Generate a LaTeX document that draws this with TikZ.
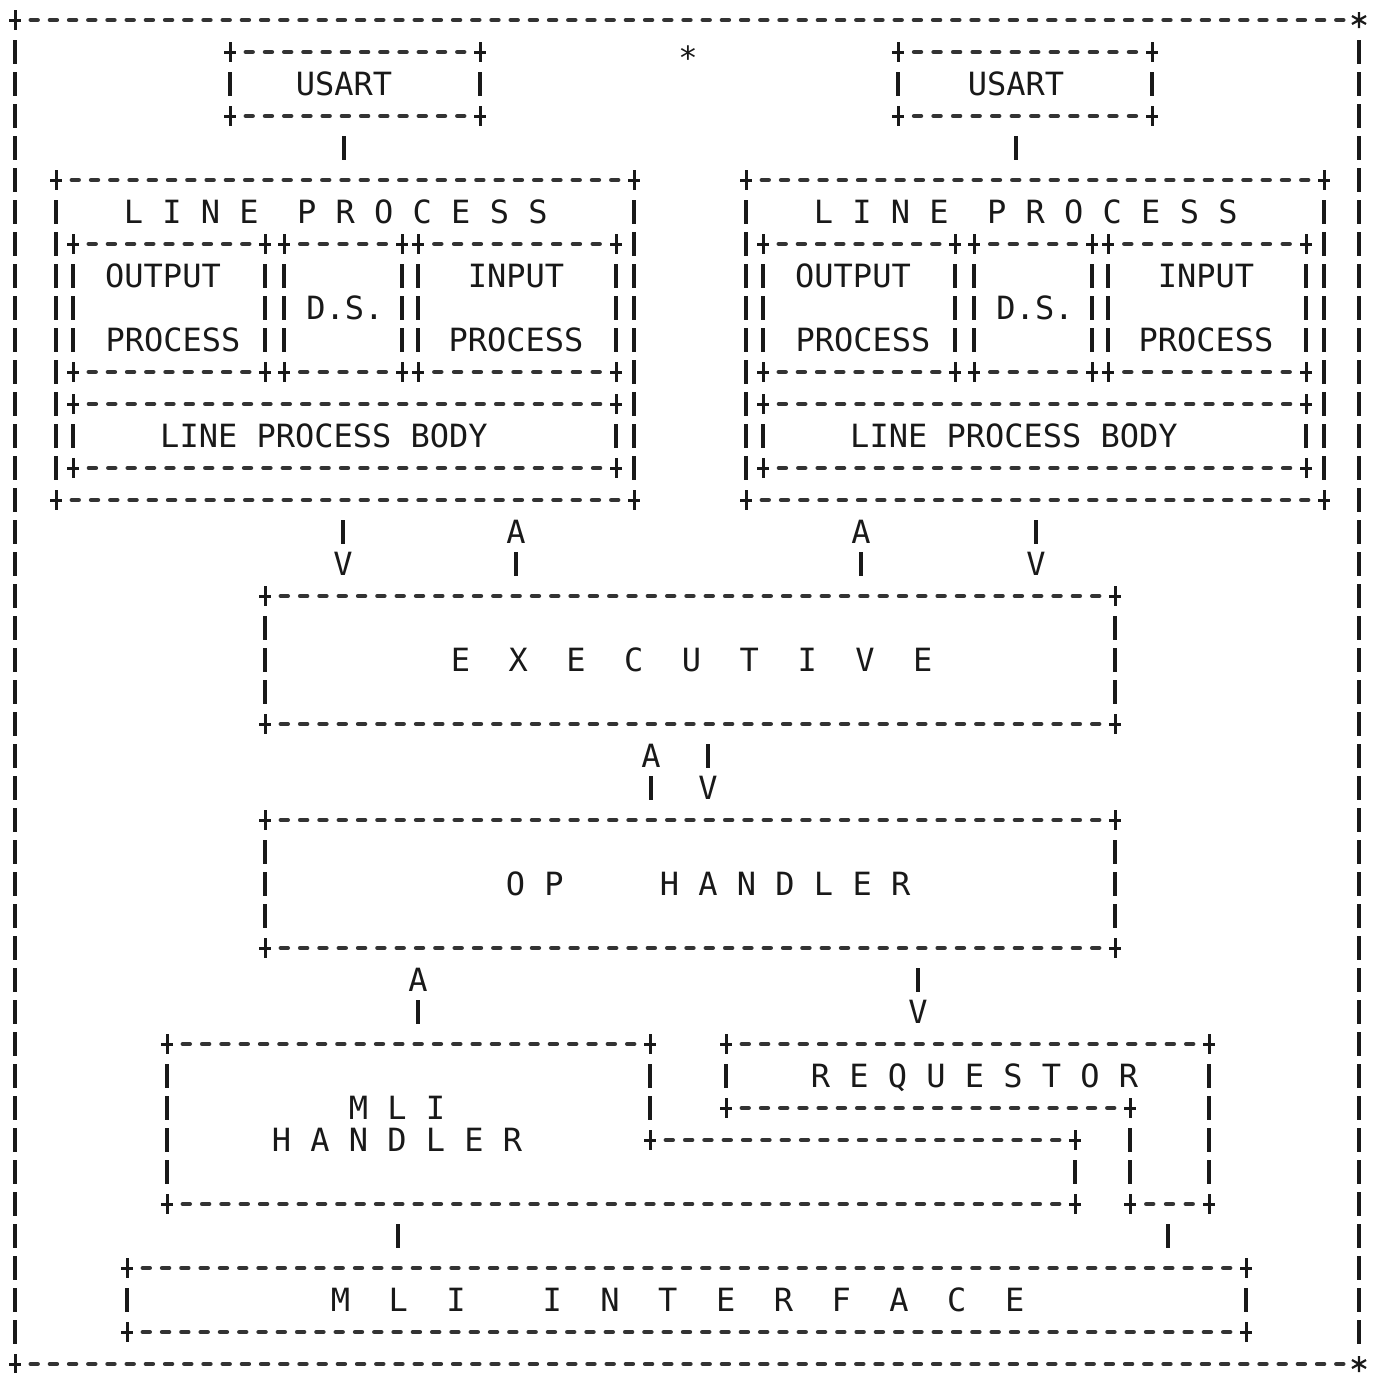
\documentclass[tikz,border=0pt]{standalone}
\usepackage{fontspec}
\newfontfamily\dmono{DejaVu Sans Mono}
\usetikzlibrary{fit,calc}
\tikzset{
  vb/.style={line width=1.75pt, black!90},
  dsh/.style={line width=2.2pt, line cap=round, black!80},
  pl/.style={line width=1.5pt, black!90},
  sm/.style={line width=1.1pt, black!90},
  boxn/.style={inner sep=0pt, draw=none},
  lbl/.style={font={\dmono\fontsize{16}{18}\selectfont}, inner sep=0pt, text=black!90},
}
% plus mark at a corner
\newcommand\pmark[2]{\draw[pl] ({#1-6},#2) -- ({#1+6},#2) (#1,{#2-10}) -- (#1,{#2+10});}
% star mark at a corner
\newcommand\smark[2]{\draw[sm] (#1,{#2-8}) -- (#1,{#2+8}) ({#1-7},{#2-4}) -- ({#1+7},{#2+4}) ({#1-7},{#2+4}) -- ({#1+7},{#2-4});}
% horizontal dashed run between x1 and x2 at y
\newcommand\hdl[3]{%
  \pgfmathtruncatemacro\dnum{round((#2-#1)/19.3)}%
  \pgfmathsetmacro\hstep{(#2-#1)/\dnum}%
  \pgfmathtruncatemacro\dlast{\dnum-1}%
  \foreach \k in {1,...,\dlast}{\draw[dsh] ({#1+\k*\hstep-3.5},#3) -- ({#1+\k*\hstep+3.5},#3);}%
}
% vertical bars at x between rows y1 and y2
\newcommand\vdl[3]{%
  \pgfmathtruncatemacro\dnum{round((#3-#2)/32)}%
  \pgfmathtruncatemacro\dlast{\dnum-1}%
  \foreach \k in {1,...,\dlast}{\draw[vb] (#1,{#2+\k*32-12}) -- (#1,{#2+\k*32+12});}%
}
% named ascii box
\newcommand\abox[5]{%
  \node[boxn, fit={(#2,#3) (#4,#5)}] (#1) {};
  \hdl{#2}{#4}{#3}\hdl{#2}{#4}{#5}\vdl{#2}{#3}{#5}\vdl{#4}{#3}{#5}%
  \pmark{#2}{#3}\pmark{#4}{#3}\pmark{#2}{#5}\pmark{#4}{#5}%
}
\begin{document}
\begin{tikzpicture}[x=0.5pt,y=-0.5pt]
\useasboundingbox (0,0) rectangle (1373,1373);
\fill[white] (0,0) rectangle (1373,1373);

% outer frame
\node[boxn, fit={(15,20) (1359,1364)}] (frame) {};
\hdl{15}{1359}{20}\hdl{15}{1359}{1364}\vdl{15}{20}{1364}\vdl{1359}{20}{1364}
\pmark{15}{20}\pmark{15}{1364}
\smark{1359}{20}\smark{1359}{1364}
\node[lbl, anchor=base] (st0) at (688,69) {*};

% USART boxes
\abox{usartL}{230}{52}{480}{116}
\abox{usartR}{898}{52}{1152}{116}
\node[lbl, anchor=base] (usartLt) at (344,95.7) {USART};
\node[lbl, anchor=base] (usartRt) at (1016,95.7) {USART};

% line process (left)
\abox{lpL}{56}{180}{634}{500}
\abox{outBL}{73}{244}{265}{372}
\abox{dsBL}{284}{244}{402}{372}
\abox{inBL}{418}{244}{616}{372}
\abox{bodyBL}{73}{404}{616}{468}
\node[lbl, anchor=base west] (lptL) at (123.35,223.7) {L~I~N~E~~P~R~O~C~E~S~S};
\node[lbl, anchor=base] (outL) at (163,287.7) {OUTPUT};
\node[lbl, anchor=base] (poL) at (173,351.7) {PROCESS};
\node[lbl, anchor=base] (dsL) at (345,319.7) {D.S.};
\node[lbl, anchor=base] (inL) at (516,287.7) {INPUT};
\node[lbl, anchor=base] (piL) at (516,351.7) {PROCESS};
\node[lbl, anchor=base] (bodyL) at (324,447.7) {LINE PROCESS BODY};

% line process (right)
\abox{lpR}{746}{180}{1324}{500}
\abox{outBR}{763}{244}{955}{372}
\abox{dsBR}{974}{244}{1092}{372}
\abox{inBR}{1108}{244}{1306}{372}
\abox{bodyBR}{763}{404}{1306}{468}
\node[lbl, anchor=base west] (lptR) at (813.35,223.7) {L~I~N~E~~P~R~O~C~E~S~S};
\node[lbl, anchor=base] (outR) at (853,287.7) {OUTPUT};
\node[lbl, anchor=base] (poR) at (863,351.7) {PROCESS};
\node[lbl, anchor=base] (dsR) at (1035,319.7) {D.S.};
\node[lbl, anchor=base] (inR) at (1206,287.7) {INPUT};
\node[lbl, anchor=base] (piR) at (1206,351.7) {PROCESS};
\node[lbl, anchor=base] (bodyR) at (1014,447.7) {LINE PROCESS BODY};

% executive
\abox{exec}{265}{596}{1115}{724}
\node[lbl, anchor=base west] (exect) at (450.35,671.7) {E~~X~~E~~C~~U~~T~~I~~V~~E};

% op handler
\abox{oph}{265}{820}{1115}{948}
\node[lbl, anchor=base west] (opht) at (505.35,895.7) {O~P~~~~~H~A~N~D~L~E~R};

% MLI handler (stepped outline)
\node[boxn, fit={(167,1044) (1075,1204)}] (mliH) {};
\hdl{167}{650}{1044}\hdl{650}{1075}{1140}\hdl{167}{1075}{1204}
\vdl{167}{1044}{1204}\vdl{650}{1044}{1140}\vdl{1075}{1140}{1204}
\pmark{167}{1044}\pmark{650}{1044}\pmark{650}{1140}\pmark{1075}{1140}\pmark{167}{1204}\pmark{1075}{1204}
\node[lbl, anchor=base west] (mliHt1) at (348.35,1119.7) {M~L~I};
\node[lbl, anchor=base west] (mliHt2) at (271.35,1151.7) {H~A~N~D~L~E~R};

% requestor (stepped outline)
\node[boxn, fit={(726,1044) (1209,1204)}] (req) {};
\hdl{726}{1209}{1044}\hdl{726}{1130}{1108}\hdl{1130}{1209}{1204}
\vdl{726}{1044}{1108}\vdl{1130}{1108}{1204}\vdl{1209}{1044}{1204}
\pmark{726}{1044}\pmark{1209}{1044}\pmark{726}{1108}\pmark{1130}{1108}\pmark{1130}{1204}\pmark{1209}{1204}
\node[lbl, anchor=base west] (reqt) at (810.35,1087.7) {R~E~Q~U~E~S~T~O~R};

% MLI interface
\abox{mlii}{127}{1268}{1246}{1332}
\node[lbl, anchor=base west] (mliit) at (330.35,1311.7) {M~~L~~I~~~~I~~N~~T~~E~~R~~F~~A~~C~~E};

% connectors
\coordinate (k1) at (344,148);
\coordinate (k2) at (1016,148);
\draw[vb] ($(usartL.south -| k1)+(0,-10pt)$) -- ($(lpL.north -| k1)+(0,10pt)$);
\draw[vb] ($(usartR.south -| k2)+(0,-10pt)$) -- ($(lpR.north -| k2)+(0,10pt)$);

\node[lbl, anchor=base] (vL) at (343,575.7) {V};
\draw[vb] ($(lpL.south -| vL)+(0,-10pt)$) -- ($(exec.north -| vL)+(0,26pt)$);
\node[lbl, anchor=base] (aL) at (516,543.7) {A};
\draw[vb] ($(exec.north -| aL)+(0,10pt)$) -- ($(lpL.south -| aL)+(0,-26pt)$);
\node[lbl, anchor=base] (aR) at (861,543.7) {A};
\draw[vb] ($(exec.north -| aR)+(0,10pt)$) -- ($(lpR.south -| aR)+(0,-26pt)$);
\node[lbl, anchor=base] (vR) at (1036,575.7) {V};
\draw[vb] ($(lpR.south -| vR)+(0,-10pt)$) -- ($(exec.north -| vR)+(0,26pt)$);

\node[lbl, anchor=base] (aE) at (651,767.7) {A};
\draw[vb] ($(oph.north -| aE)+(0,10pt)$) -- ($(exec.south -| aE)+(0,-26pt)$);
\node[lbl, anchor=base] (vE) at (708,799.7) {V};
\draw[vb] ($(exec.south -| vE)+(0,-10pt)$) -- ($(oph.north -| vE)+(0,26pt)$);

\node[lbl, anchor=base] (aO) at (418,991.7) {A};
\draw[vb] ($(mliH.north -| aO)+(0,10pt)$) -- ($(oph.south -| aO)+(0,-26pt)$);
\node[lbl, anchor=base] (vO) at (918,1023.7) {V};
\draw[vb] ($(oph.south -| vO)+(0,-10pt)$) -- ($(req.north -| vO)+(0,26pt)$);

\coordinate (k3) at (398,1236);
\coordinate (k4) at (1168,1236);
\draw[vb] ($(mliH.south -| k3)+(0,-10pt)$) -- ($(mlii.north -| k3)+(0,10pt)$);
\draw[vb] ($(req.south -| k4)+(0,-10pt)$) -- ($(mlii.north -| k4)+(0,10pt)$);
\end{tikzpicture}
\end{document}
